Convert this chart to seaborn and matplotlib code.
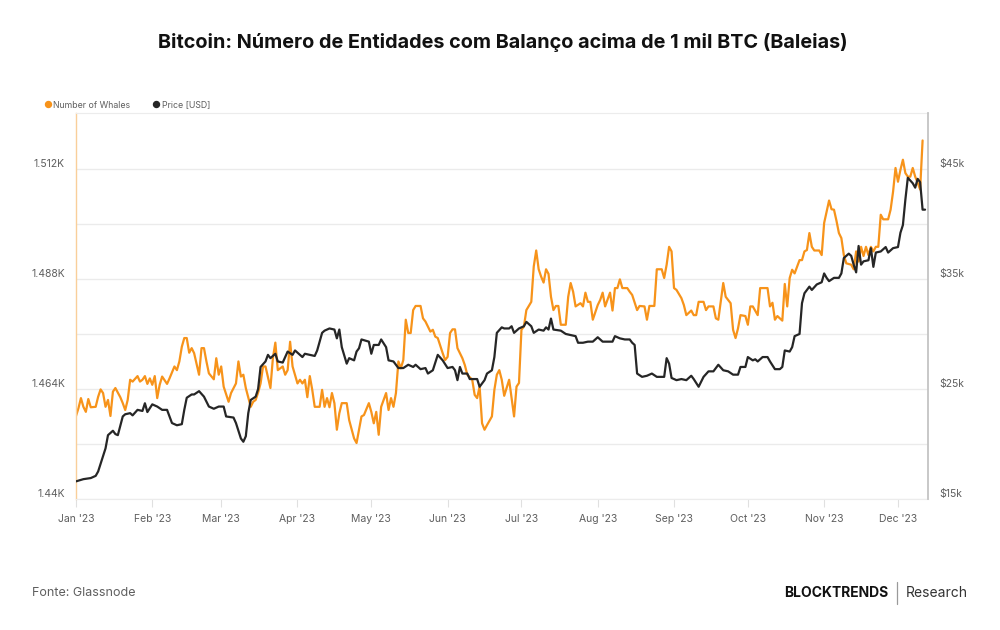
import seaborn as sns
import matplotlib.pyplot as plt
import matplotlib.dates as mdates
import matplotlib.transforms as mtransforms
from matplotlib.lines import Line2D
from matplotlib.ticker import FuncFormatter, FixedLocator
import pandas as pd

# days since 2023-01-01
whale_day = [0, 1, 2, 3, 4, 5, 6, 8, 9, 10, 11, 12, 13, 14, 15, 16, 18, 19, 20, 21, 22, 23, 25, 26, 27, 28, 29, 30,
             31, 32, 33, 34, 35, 37, 38, 40, 41, 42, 43, 44, 45, 46, 47, 48, 50, 51, 52, 53, 54, 56, 57, 58, 59, 60,
             62, 63, 65, 66, 67, 68, 69, 71, 72, 73, 74, 75, 76, 77, 79, 80, 81, 82, 84, 85, 86, 87, 88, 90, 91, 92,
             93, 94, 95, 96, 97, 99, 100, 101, 102, 103, 104, 105, 106, 107, 108, 110, 111, 113, 114, 115, 116, 117,
             119, 120, 121, 122, 123, 124, 125, 126, 127, 128, 129, 130, 131, 132, 133, 134, 135, 136, 137, 138, 140,
             141, 142, 144, 145, 146, 147, 149, 150, 151, 152, 153, 154, 155, 157, 158, 159, 161, 162, 163, 164, 165,
             166, 167, 169, 170, 171, 172, 173, 174, 176, 178, 179, 180, 181, 182, 183, 185, 186, 187, 188, 189, 190,
             191, 192, 193, 194, 195, 196, 197, 199, 200, 201, 202, 203, 205, 206, 207, 208, 209, 210, 212, 213, 214,
             215, 217, 218, 219, 220, 221, 222, 224, 225, 226, 228, 229, 231, 232, 233, 235, 236, 238, 239, 240, 241,
             242, 243, 244, 246, 247, 248, 250, 251, 252, 253, 255, 256, 257, 259, 260, 261, 263, 264, 266, 267, 268,
             269, 270, 272, 273, 274, 275, 277, 278, 280, 281, 282, 283, 284, 285, 287, 288, 289, 290, 291, 292, 294,
             295, 296, 297, 298, 299, 300, 302, 303, 304, 305, 306, 307, 308, 309, 310, 311, 312, 313, 315, 316, 317,
             318, 319, 320, 321, 322, 323, 324, 325, 326, 327, 328, 330, 331, 332, 333, 334, 335, 336, 337, 338, 339,
             340, 341, 342, 343, 344]
whale_count = [1458.1, 1459.8, 1462.0, 1460.1, 1459.0, 1461.8, 1460.0, 1460.1, 1462.3, 1463.9, 1463.1, 1460.1, 1461.6,
               1458.1, 1463.4, 1464.2, 1462.2, 1460.9, 1459.4, 1461.6, 1466.0, 1465.6, 1466.8, 1465.6, 1466.0, 1466.8,
               1465.1, 1466.3, 1464.9, 1466.8, 1462.0, 1464.9, 1466.7, 1465.1, 1466.3, 1468.9, 1468.1, 1470.0, 1473.2,
               1475.1, 1475.1, 1471.9, 1472.9, 1471.8, 1467.1, 1472.9, 1472.9, 1470.0, 1467.4, 1466.1, 1470.7, 1467.1,
               1468.9, 1464.5, 1461.2, 1463.1, 1465.2, 1470.0, 1466.7, 1467.1, 1464.2, 1460.1, 1461.2, 1461.6, 1463.2,
               1465.2, 1468.9, 1468.9, 1464.2, 1470.7, 1474.1, 1468.1, 1468.9, 1467.1, 1468.1, 1474.3, 1468.9, 1465.2,
               1466.0, 1465.2, 1466.0, 1462.2, 1466.8, 1463.8, 1460.1, 1460.1, 1463.8, 1460.1, 1462.0, 1460.0, 1463.1,
               1460.9, 1455.1, 1458.7, 1460.9, 1460.9, 1457.2, 1453.2, 1452.2, 1455.1, 1458.0, 1458.3, 1460.9, 1459.0,
               1456.5, 1459.0, 1454.0, 1460.1, 1461.6, 1463.1, 1459.4, 1462.0, 1460.1, 1463.1, 1470.0, 1468.5, 1470.3,
               1479.1, 1476.2, 1476.2, 1481.2, 1482.1, 1482.1, 1479.4, 1478.7, 1476.5, 1476.9, 1475.4, 1475.1, 1471.8,
               1470.3, 1471.0, 1476.2, 1477.0, 1477.0, 1472.9, 1470.7, 1469.2, 1467.1, 1466.0, 1462.7, 1462.0, 1464.5,
               1456.5, 1455.1, 1456.1, 1458.0, 1463.8, 1467.1, 1468.1, 1466.0, 1462.5, 1466.0, 1458.0, 1464.5, 1465.3,
               1476.9, 1477.6, 1481.2, 1483.0, 1490.7, 1494.2, 1490.1, 1488.5, 1487.2, 1490.1, 1489.1, 1484.1, 1481.2,
               1482.1, 1482.1, 1478.0, 1478.0, 1484.1, 1487.1, 1485.2, 1482.0, 1482.7, 1482.0, 1485.0, 1483.0, 1483.0,
               1479.1, 1482.3, 1483.4, 1485.0, 1482.0, 1485.0, 1481.1, 1486.0, 1486.0, 1487.9, 1486.0, 1486.0, 1485.2,
               1484.5, 1481.2, 1482.1, 1482.0, 1479.1, 1482.1, 1482.1, 1490.1, 1490.1, 1488.2, 1491.1, 1495.0, 1494.0,
               1486.0, 1485.6, 1483.8, 1482.3, 1480.1, 1481.1, 1480.1, 1480.1, 1483.0, 1483.0, 1481.2, 1482.0, 1482.0,
               1479.4, 1479.1, 1487.1, 1484.1, 1482.7, 1476.9, 1475.1, 1477.2, 1480.1, 1479.9, 1478.0, 1482.0, 1482.0,
               1480.1, 1486.0, 1486.0, 1486.0, 1482.0, 1482.8, 1479.1, 1479.9, 1478.9, 1486.9, 1482.0, 1488.2, 1490.0,
               1489.2, 1492.1, 1492.1, 1494.0, 1494.3, 1498.0, 1495.0, 1494.2, 1494.2, 1493.2, 1500.2, 1502.7, 1505.1,
               1503.2, 1503.1, 1500.7, 1498.0, 1496.9, 1493.2, 1491.4, 1491.1, 1490.1, 1494.0, 1491.8, 1495.0, 1493.0,
               1495.0, 1493.2, 1495.0, 1494.0, 1495.0, 1495.0, 1502.0, 1501.0, 1501.0, 1503.1, 1507.0, 1512.2, 1509.2,
               1511.8, 1514.0, 1511.1, 1510.3, 1510.3, 1512.2, 1510.3, 1509.0, 1507.5, 1518.2]

price_day = [0, 3, 6, 8, 9, 10, 12, 13, 14, 15, 16, 17, 19, 20, 22, 23, 25, 27, 28, 29, 31, 33, 35, 37, 39, 41, 43, 44,
             45, 47, 48, 50, 52, 54, 56, 58, 60, 61, 64, 65, 67, 68, 69, 70, 71, 73, 74, 75, 77, 78, 79, 81, 82, 84,
             86, 88, 89, 90, 92, 93, 95, 97, 98, 100, 101, 103, 105, 106, 107, 108, 110, 111, 113, 114, 115, 116, 119,
             120, 121, 123, 124, 126, 127, 129, 131, 133, 135, 137, 138, 140, 142, 143, 145, 147, 149, 151, 153, 154,
             155, 156, 157, 159, 160, 163, 164, 166, 167, 169, 170, 171, 173, 174, 176, 177, 178, 180, 182, 183, 185,
             186, 188, 190, 191, 192, 193, 194, 197, 199, 201, 203, 204, 206, 208, 210, 212, 214, 216, 218, 219, 221,
             223, 225, 226, 227, 228, 230, 232, 234, 236, 239, 240, 241, 242, 244, 246, 248, 250, 251, 253, 255, 257,
             259, 261, 263, 265, 267, 269, 270, 272, 273, 275, 276, 277, 279, 281, 282, 284, 286, 287, 288, 290, 291,
             292, 294, 295, 296, 298, 299, 301, 303, 304, 305, 306, 308, 310, 311, 312, 314, 315, 316, 317, 318, 319,
             320, 322, 323, 324, 325, 327, 329, 330, 332, 334, 335, 336, 337, 338, 340, 341, 342, 343, 344, 345]
price_usd = [16600, 16800, 16900, 17100, 17500, 18200, 19600, 20800, 21000, 21200, 20900, 20800, 22500, 22700, 22800,
             22600, 23100, 23000, 23700, 22900, 23600, 23400, 23100, 23100, 21900, 21700, 21800, 23100, 24200, 24500,
             24500, 24800, 24300, 23400, 23200, 23400, 23400, 22500, 22400, 21900, 20500, 20200, 20700, 22800, 24000,
             24300, 25000, 27000, 27500, 28100, 27800, 28200, 27500, 27400, 28400, 28100, 28500, 28300, 27900, 28200,
             28100, 28000, 28500, 30100, 30300, 30500, 30400, 29600, 30400, 28800, 27300, 27800, 27600, 28400, 28700,
             29500, 29300, 28200, 29000, 29000, 29500, 28800, 27600, 27500, 26900, 26900, 27200, 27000, 27200, 26800,
             26900, 26400, 26700, 28100, 27600, 26900, 27000, 26700, 25800, 27000, 26400, 26400, 25900, 25900, 25200,
             25800, 26400, 26700, 27900, 30100, 30600, 30500, 30500, 30700, 30100, 30500, 30700, 31100, 30700, 30100,
             30400, 30300, 30600, 30400, 31400, 30400, 30300, 30000, 29900, 29800, 29200, 29200, 29300, 29300, 29700,
             29300, 29300, 29300, 29800, 29600, 29500, 29500, 29200, 29000, 26400, 26100, 26200, 26400, 26100, 26100,
             27800, 27300, 26000, 25800, 25900, 25800, 26200, 25900, 25200, 26100, 26600, 26600, 27200, 26700, 26600,
             26300, 26300, 27000, 27000, 27900, 27600, 27700, 27500, 27900, 27900, 27500, 26800, 26800, 27000, 28500,
             28400, 28800, 29800, 30000, 32800, 33700, 34300, 34000, 34500, 34700, 35500, 35100, 34800, 35100, 35100,
             35500, 36900, 37300, 37100, 36300, 35600, 38000, 36300, 36600, 36700, 37800, 36100, 37400, 37500, 37900,
             37400, 37800, 37900, 39200, 39900, 42200, 44200, 43700, 43300, 44100, 43800, 41300, 41300]

left_ticks = [1440, 1452, 1464, 1476, 1488, 1500, 1512]
left_labeled = [1440, 1464, 1488, 1512]
right_ticks = [15000, 25000, 35000, 45000]

start = pd.Timestamp("2023-01-01")
whales = pd.DataFrame({"date": start + pd.to_timedelta(whale_day, unit="D"), "whales": whale_count})
price = pd.DataFrame({"date": start + pd.to_timedelta(price_day, unit="D"), "price": price_usd})

sns.set_theme(style="white")
plt.rcParams["font.family"] = ["Inter", "DejaVu Sans"]

orange = "#F7931A"
dark = "#262626"
grey_txt = "#5f5f5f"

fig = plt.figure(figsize=(10, 6.3), dpi=100)
ax = fig.add_axes([0.076, 0.208, 0.852, 0.6127])
ax2 = ax.twinx()

sns.lineplot(data=whales, x="date", y="whales", ax=ax, color=orange, linewidth=1.6)
sns.lineplot(data=price, x="date", y="price", ax=ax2, color=dark, linewidth=1.6)

ax.set_xlim(start, start + pd.Timedelta(days=346.2))
ax.set_ylim(1440, 1524.2)
ax2.set_ylim(15000, 50090)

ax.yaxis.set_major_locator(FixedLocator(left_ticks))
ax.yaxis.set_major_formatter(FuncFormatter(lambda v, p: f"{v/1000:g}K" if round(v) in left_labeled else ""))
ax2.yaxis.set_major_locator(FixedLocator(right_ticks))
ax2.yaxis.set_major_formatter(FuncFormatter(lambda v, p: f"${v/1000:.0f}k"))
ax.xaxis.set_major_locator(mdates.MonthLocator())
ax.xaxis.set_major_formatter(mdates.DateFormatter("%b '%y"))

ax.grid(axis="y", color="#ebebeb", linewidth=1)
ax.set_axisbelow(True)
ax.set_xlabel("")
ax.set_ylabel("")
ax2.set_ylabel("")

ax.tick_params(axis="y", length=0, pad=8, labelsize=7.5, labelcolor=grey_txt)
ax2.tick_params(axis="y", length=0, pad=8, labelsize=7.5, labelcolor=grey_txt)
ax.tick_params(axis="x", length=6, width=0.8, color="#e0e0e0", pad=5, labelsize=7.5, labelcolor=grey_txt,
               bottom=True)

for s in ["top", "bottom"]:
    ax.spines[s].set_color("#ececec")
    ax.spines[s].set_linewidth(0.8)
ax.spines["left"].set_color("#f9cf9a")
ax.spines["left"].set_linewidth(1.0)
ax.spines["right"].set_visible(False)
for s in ["top", "bottom", "left"]:
    ax2.spines[s].set_visible(False)
ax2.spines["right"].set_color("#c4c4c4")
ax2.spines["right"].set_linewidth(1.3)

# labels sit a little above their gridlines
offset = mtransforms.ScaledTranslation(0, 0.055, fig.dpi_scale_trans)
for lbl in ax.get_yticklabels() + ax2.get_yticklabels():
    lbl.set_transform(lbl.get_transform() + offset)

fig.text(0.503, 0.932, "Bitcoin: Número de Entidades com Balanço acima de 1 mil BTC (Baleias)",
         ha="center", va="center", fontsize=14.3, fontweight="bold", color="#111111")

handles = [Line2D([], [], marker="o", linestyle="", color=orange, markersize=4.3),
           Line2D([], [], marker="o", linestyle="", color=dark, markersize=4.3)]
fig.legend(handles, ["Number of Whales", "Price [USD]"], loc="center left",
           bbox_to_anchor=(0.045, 1 - 105 / 630), ncol=2, frameon=False, fontsize=6.3,
           labelcolor=grey_txt, handlelength=0.6, handletextpad=0.35, columnspacing=2.6,
           borderaxespad=0, borderpad=0)

fig.text(0.032, 1 - 593 / 630, "Fonte: Glassnode", ha="left", va="center", fontsize=9, color=grey_txt)
fig.text(0.888, 1 - 593 / 630, "BLOCKTRENDS", ha="right", va="center", fontsize=10, fontweight="bold",
         color="#111111")
fig.text(0.906, 1 - 593 / 630, "Research", ha="left", va="center", fontsize=10, color="#333333")
fig.add_artist(Line2D([0.897, 0.897], [1 - 582 / 630, 1 - 604 / 630], transform=fig.transFigure,
                      color="#9a9a9a", linewidth=0.9))

fig.savefig("out.png", dpi=100)
